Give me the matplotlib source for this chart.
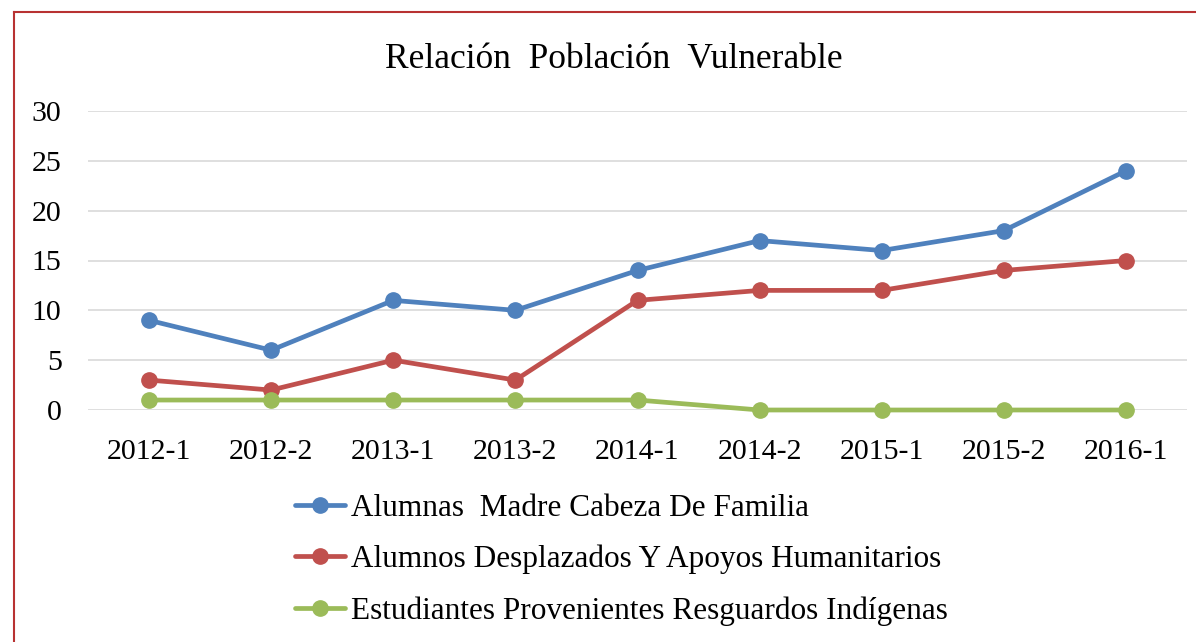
import matplotlib
matplotlib.use("Agg")
import matplotlib.pyplot as plt
from matplotlib.lines import Line2D

plt.rcParams['font.family'] = ['Liberation Serif', 'DejaVu Serif']

periods = ["2012-1", "2012-2", "2013-1", "2013-2", "2014-1",
           "2014-2", "2015-1", "2015-2", "2016-1"]
madres = [9, 6, 11, 10, 14, 17, 16, 18, 24]
desplazados = [3, 2, 5, 3, 11, 12, 12, 14, 15]
indigenas = [1, 1, 1, 1, 1, 0, 0, 0, 0]

labels = ["Alumnas  Madre Cabeza De Familia",
          "Alumnos Desplazados Y Apoyos Humanitarios",
          "Estudiantes Provenientes Resguardos Indígenas"]
colors = ["#4F81BD", "#C0504D", "#9BBB59"]

fig = plt.figure(figsize=(11.96, 6.42), dpi=100)
ax = fig.add_axes([88 / 1196, 1 - 410 / 642, (1187 - 88) / 1196, (410 - 111) / 642])

x = range(len(periods))
for vals, lab, col in zip([madres, desplazados, indigenas], labels, colors):
    ax.plot(x, vals, color=col, lw=3.4, marker='o', ms=11, label=lab,
            solid_capstyle='round', clip_on=False)

ax.set_xlim(-0.5, len(periods) - 0.5)
ax.set_ylim(0, 30)
ax.set_yticks([0, 5, 10, 15, 20, 25, 30])
ax.set_xticks(list(x))
ax.set_xticklabels(periods)
ax.tick_params(axis='both', length=0, labelsize=21.5)
ax.tick_params(axis='y', pad=19)
ax.tick_params(axis='x', pad=21)
ax.grid(axis='y', color='#D9D9D9', lw=1.2)
ax.set_axisbelow(True)
for s in ax.spines.values():
    s.set_visible(False)

fig.text(614 / 1196, 1 - 60 / 642, "Relación  Población  Vulnerable",
         ha='center', va='center', fontsize=25.5)

fig.legend(loc='upper left', bbox_to_anchor=(295 / 1196, 1 - 494 / 642),
           frameon=False, fontsize=22.5, handlelength=1.6, handletextpad=0.2,
           labelspacing=0.7, borderaxespad=0, borderpad=0)

# red outline of the chart box
fig.add_artist(Line2D([14 / 1196, 14 / 1196], [0, 1 - 12 / 642],
                      transform=fig.transFigure, color='#B83232', lw=1.5))
fig.add_artist(Line2D([14 / 1196, 1], [1 - 12 / 642, 1 - 12 / 642],
                      transform=fig.transFigure, color='#B83232', lw=1.5))

fig.savefig("out.png", dpi=100)
